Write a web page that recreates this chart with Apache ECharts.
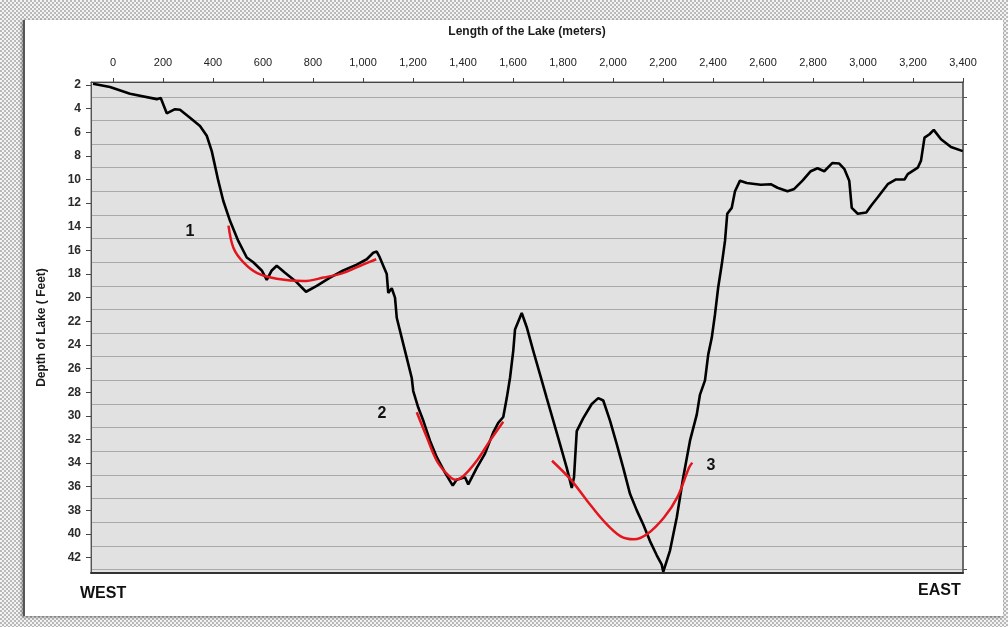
<!DOCTYPE html>
<html>
<head>
<meta charset="utf-8">
<script src="https://cdn.jsdelivr.net/npm/echarts@6/dist/echarts.min.js"></script>
<style>
  html, body { margin: 0; padding: 0; }
  body {
    width: 1008px; height: 627px; overflow: hidden; position: relative;
    background-color: #fff;
    background-image: repeating-conic-gradient(#b9b9b9 0% 25%, #f4f4f4 0% 50%);
    background-size: 4px 4px;
  }
  #panel {
    position: absolute; left: 23px; top: 20px; width: 980px; height: 596px;
    background: #fff; border-left: 2px solid #555; box-sizing: border-box;
    box-shadow: -1px 1px 3px rgba(0,0,0,0.45);
  }
  #chart { position: absolute; left: 0; top: 0; width: 1008px; height: 627px; }
</style>
</head>
<body>
<div id="panel"></div>
<div id="chart"></div>
<script>
// ---- Data (distance in meters, depth in feet) ----
const profileDistance = [-80, -12, 68, 175, 191, 215, 248, 268, 308, 348, 375, 395, 408, 421, 441, 468, 501, 535, 561, 595, 615, 635, 655, 688, 735, 772, 815, 868, 921, 975, 1015, 1041, 1055, 1065, 1081, 1095, 1101, 1115, 1128, 1135, 1155, 1175, 1195, 1201, 1221, 1241, 1268, 1295, 1328, 1359, 1375, 1408, 1421, 1455, 1488, 1521, 1541, 1561, 1575, 1588, 1601, 1608, 1635, 1655, 1681, 1708, 1735, 1761, 1788, 1815, 1835, 1844, 1855, 1881, 1915, 1941, 1961, 1988, 2015, 2041, 2068, 2095, 2121, 2148, 2175, 2195, 2201, 2228, 2255, 2281, 2308, 2335, 2348, 2368, 2381, 2395, 2408, 2421, 2435, 2448, 2457, 2475, 2488, 2508, 2535, 2591, 2631, 2658, 2698, 2725, 2758, 2791, 2818, 2845, 2878, 2905, 2925, 2945, 2955, 2979, 3013, 3033, 3059, 3099, 3132, 3166, 3179, 3219, 3232, 3246, 3266, 3283, 3312, 3352, 3399];
const profileDepth = [1.9, 2.17, 2.74, 3.2, 3.1, 4.4, 4.05, 4.1, 4.77, 5.47, 6.3, 7.6, 8.85, 10.1, 11.8, 13.5, 15.2, 16.6, 17.0, 17.7, 18.5, 17.7, 17.3, 17.9, 18.7, 19.5, 19.0, 18.3, 17.7, 17.2, 16.75, 16.2, 16.1, 16.5, 17.3, 18.0, 19.6, 19.2, 20.0, 21.7, 23.4, 25.1, 26.8, 27.9, 29.3, 30.4, 32.1, 33.5, 34.8, 35.9, 35.4, 35.2, 35.8, 34.4, 33.2, 31.4, 30.6, 30.1, 28.5, 26.8, 24.5, 22.7, 21.3, 22.5, 24.5, 26.5, 28.5, 30.4, 32.4, 34.4, 36.1, 35.2, 31.3, 30.2, 29.0, 28.5, 28.7, 30.4, 32.4, 34.4, 36.6, 38.0, 39.2, 40.6, 41.8, 42.6, 43.2, 41.4, 38.6, 35.2, 32.1, 29.9, 28.2, 27.0, 24.8, 23.4, 21.4, 19.1, 17.2, 15.2, 12.9, 12.4, 11.0, 10.1, 10.3, 10.45, 10.4, 10.7, 11.0, 10.8, 10.1, 9.3, 9.05, 9.3, 8.6, 8.65, 9.1, 10.1, 12.4, 12.9, 12.8, 12.2, 11.5, 10.4, 10.0, 10.0, 9.55, 9.0, 8.4, 6.46, 6.17, 5.8, 6.6, 7.25, 7.6];

const fit1Distance = [462, 482, 521, 575, 655, 762, 842, 922, 989, 1053];
const fit1Depth = [13.9, 15.8, 17.0, 17.9, 18.4, 18.6, 18.3, 17.9, 17.3, 16.75];

const fit2Distance = [1215, 1255, 1295, 1335, 1368, 1401, 1455, 1508, 1561];
const fit2Depth = [29.7, 31.8, 33.8, 34.9, 35.4, 35.1, 33.8, 32.1, 30.5];

const fit3Distance = [1756, 1831, 1897, 1963, 2031, 2084, 2137, 2204, 2257, 2304, 2317];
const fit3Depth = [33.8, 35.4, 37.2, 38.9, 40.2, 40.45, 40.0, 38.6, 36.9, 34.4, 33.96];

const markerDistance = [308, 1076, 2392];
const markerDepth = [14.4, 29.8, 34.2];
const markerText = ['1', '2', '3'];

const xTickValues = [0, 200, 400, 600, 800, 1000, 1200, 1400, 1600, 1800, 2000, 2200, 2400, 2600, 2800, 3000, 3200, 3400];
const yLabelValues = [2, 4, 6, 8, 10, 12, 14, 16, 18, 20, 22, 24, 26, 28, 30, 32, 34, 36, 38, 40, 42];
const yGridValues = [3, 5, 7, 9, 11, 13, 15, 17, 19, 21, 23, 25, 27, 29, 31, 33, 35, 37, 39, 41, 43];

const zip = (xs, ys) => xs.map((x, i) => [x, ys[i]]);

const FONT = '"Liberation Sans", Arial, sans-serif';
const chart = echarts.init(document.getElementById('chart'), null, { renderer: 'canvas' });

const fitStyle = { color: '#e3161d', width: 2.5 };

chart.setOption({
  animation: false,
  textStyle: { fontFamily: FONT },
  grid: {
    left: 91, top: 82, width: 872, height: 491,
    show: true, backgroundColor: '#e1e1e1', borderColor: '#6a6a6a', borderWidth: 1
  },
  xAxis: [{
    type: 'value', position: 'top', min: -88, max: 3400,
    name: 'Length of the Lake (meters)', nameLocation: 'middle', nameGap: 44,
    nameTextStyle: { fontFamily: FONT, fontWeight: 'bold', fontSize: 12, color: '#1a1a1a' },
    axisLine: { show: true, onZero: false, lineStyle: { color: '#444', width: 1 } },
    axisTick: { show: true, inside: false, length: 4, customValues: xTickValues, lineStyle: { color: '#444' } },
    axisLabel: {
      show: true, customValues: xTickValues, margin: 14, fontSize: 11, color: '#222', fontFamily: FONT,
      formatter: v => Number(v).toLocaleString('en-US')
    },
    splitLine: { show: false }
  }, {
    type: 'value', position: 'bottom', min: -88, max: 3400,
    axisLine: { show: true, onZero: false, lineStyle: { color: '#333', width: 2 } },
    axisTick: { show: false }, axisLabel: { show: false }, splitLine: { show: false }
  }],
  yAxis: [{
    type: 'value', inverse: true, position: 'left', min: 1.75, max: 43.3,
    name: 'Depth of Lake ( Feet)', nameLocation: 'middle', nameGap: 43, nameRotate: 90,
    nameTextStyle: { fontFamily: FONT, fontWeight: 'bold', fontSize: 12, color: '#1a1a1a' },
    axisLine: { show: true, onZero: false, lineStyle: { color: '#555', width: 1 } },
    axisTick: { show: true, inside: false, length: 5, customValues: yLabelValues, lineStyle: { color: '#444' } },
    axisLabel: { show: true, customValues: yLabelValues, margin: 10, fontSize: 12, fontWeight: 'bold', color: '#2a2a2a', fontFamily: FONT },
    splitLine: { show: false }
  }, {
    type: 'value', inverse: true, position: 'right', min: 1.75, max: 43.3,
    axisLine: { show: true, onZero: false, lineStyle: { color: '#555', width: 1.5 } },
    axisTick: { show: true, inside: false, length: 4, customValues: yGridValues, lineStyle: { color: '#555' } },
    axisLabel: { show: false },
    splitLine: { show: true, lineStyle: { color: '#a9a9a9', width: 1.2 } }
  }],
  series: [
    {
      type: 'line', xAxisIndex: 0, yAxisIndex: 0, data: zip(profileDistance, profileDepth),
      showSymbol: false, symbol: 'none', lineStyle: { color: '#000', width: 2.6 }, z: 3
    },
    { type: 'line', xAxisIndex: 0, yAxisIndex: 0, data: zip(fit1Distance, fit1Depth), smooth: 0.35, symbol: 'none', lineStyle: fitStyle, z: 4 },
    { type: 'line', xAxisIndex: 0, yAxisIndex: 0, data: zip(fit2Distance, fit2Depth), smooth: 0.35, symbol: 'none', lineStyle: fitStyle, z: 4 },
    { type: 'line', xAxisIndex: 0, yAxisIndex: 0, data: zip(fit3Distance, fit3Depth), smooth: 0.35, symbol: 'none', lineStyle: fitStyle, z: 4 },
    {
      type: 'scatter', xAxisIndex: 0, yAxisIndex: 0, symbolSize: 0, itemStyle: { color: '#111', opacity: 1 },
      data: markerDistance.map((x, i) => ({ value: [x, markerDepth[i]], name: markerText[i] })),
      label: {
        show: true, position: 'inside', formatter: p => p.name, fontSize: 16, fontWeight: 'bold',
        color: '#111', textBorderWidth: 0, fontFamily: FONT
      },
      z: 5
    }
  ],
  graphic: [
    { type: 'text', left: 80, top: 586, style: { text: 'WEST', font: 'bold 16px ' + FONT, fill: '#111' } },
    { type: 'text', left: 918, top: 583, style: { text: 'EAST', font: 'bold 16px ' + FONT, fill: '#111' } }
  ]
});
</script>
</body>
</html>
